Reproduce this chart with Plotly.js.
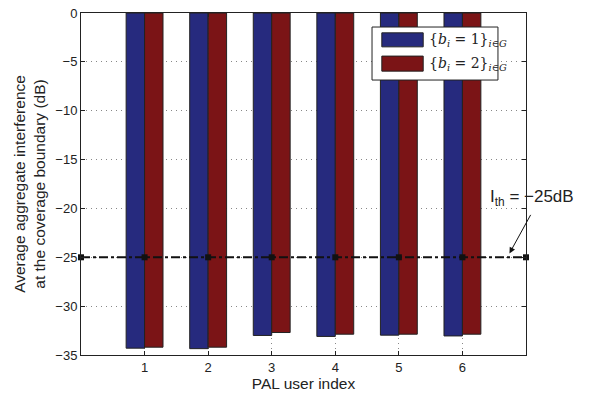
<!DOCTYPE html>
<html><head><meta charset="utf-8">
<script src="https://cdn.plot.ly/plotly-3.0.1.min.js"></script>
<style>body{margin:0;background:#fff}#c{width:589px;height:396px}</style>
</head><body><div id="c"></div>
<script>
const users = [1, 2, 3, 4, 5, 6];
const tickLabels = ['1', '2', '3', '4', '5', '6'];
const series1 = [-34.3, -34.35, -33.0, -33.1, -32.97, -33.05];
const series2 = [-34.2, -34.2, -32.7, -32.87, -32.87, -32.87];
const thrX = [0, 1, 2, 3, 4, 5, 6, 7];
const thrY = [-25, -25, -25, -25, -25, -25, -25, -25];
const names = ['{<i>b<sub>i</sub></i> = 1}<sub><i>i</i>∈<i>G</i></sub>',
               '{<i>b<sub>i</sub></i> = 2}<sub><i>i</i>∈<i>G</i></sub>'];
const colors = ['#262a7e', '#7b1416'];
const sans = 'Liberation Sans, Arial, Helvetica, sans-serif';

const data = [
  {type:'bar', x:users, y:series1, name:names[0], base:0, showlegend:false,
   marker:{color:colors[0], line:{color:'#222', width:1}}},
  {type:'bar', x:users, y:series2, name:names[1], base:0, showlegend:false,
   marker:{color:colors[1], line:{color:'#222', width:1}}},
  {type:'scatter', mode:'lines+markers', x:thrX, y:thrY, showlegend:false,
   line:{color:'#111', width:2, dash:'dashdot'},
   marker:{symbol:'square', size:6, color:'#111'}, cliponaxis:false}
];

// custom legend (box + swatches + labels)
const shapes = [
  {type:'rect', xref:'paper', yref:'paper', x0:0.654, x1:0.937, y0:0.804, y1:0.959,
   fillcolor:'#fff', line:{color:'#222', width:1}},
  {type:'rect', xref:'paper', yref:'paper', x0:0.676, x1:0.769, y0:0.901, y1:0.942,
   fillcolor:colors[0], line:{color:'#222', width:1}},
  {type:'rect', xref:'paper', yref:'paper', x0:0.676, x1:0.769, y0:0.830, y1:0.874,
   fillcolor:colors[1], line:{color:'#222', width:1}}
];

const annotations = [
  {xref:'paper', yref:'paper', x:0.778, y:0.921, xanchor:'left', yanchor:'middle',
   text:names[0], showarrow:false, font:{family:'DejaVu Serif, Liberation Serif, serif', size:14, color:'#222'}},
  {xref:'paper', yref:'paper', x:0.778, y:0.852, xanchor:'left', yanchor:'middle',
   text:names[1], showarrow:false, font:{family:'DejaVu Serif, Liberation Serif, serif', size:14, color:'#222'}},
  {x:6.74, y:-24.6, xref:'x', yref:'y', ax:22, ay:-40,
   text:'', showarrow:true, arrowhead:2, arrowsize:1.2, arrowwidth:1, arrowcolor:'#111'},
  {x:1.0135, y:0.46, xref:'paper', yref:'paper', xanchor:'center', yanchor:'middle',
   text:'I<sub>th</sub> = −25dB', showarrow:false, font:{family:sans, size:17, color:'#222'}}
];

const axisCommon = {
  ticks:'inside', ticklen:4, tickcolor:'#222',
  showline:true, linecolor:'#222', linewidth:1, mirror:'ticks',
  showgrid:true, gridcolor:'#888', griddash:'1px,4px', gridwidth:1,
  zeroline:false, tickfont:{family:sans, size:13, color:'#222'}
};

const layout = {
  width:589, height:396,
  margin:{l:81, r:63, t:13, b:41},
  paper_bgcolor:'#fff', plot_bgcolor:'#fff',
  font:{family:sans, size:13, color:'#222'},
  barmode:'group', bargap:0.42, bargroupgap:0,
  showlegend:false,
  xaxis:Object.assign({}, axisCommon, {range:[0,7], tickvals:users, ticktext:tickLabels,
    title:{text:'PAL user index', font:{family:sans, size:15.5, color:'#222'}, standoff:0}}),
  yaxis:Object.assign({}, axisCommon, {range:[-35,0], dtick:5, tick0:0, tickformat:'d',
    title:{text:'Average aggregate interference<br>at the coverage boundary (dB)', font:{family:sans, size:15.5, color:'#222'}, standoff:5}}),
  shapes:shapes,
  annotations:annotations
};
Plotly.newPlot('c', data, layout, {displayModeBar:false, staticPlot:true});
</script></body></html>
